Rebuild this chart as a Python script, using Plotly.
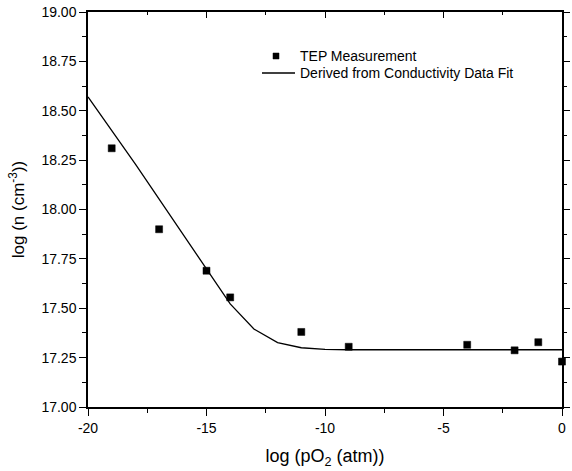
import plotly.graph_objects as go

# TEP measurement points
tep_x = [-19, -17, -15, -14, -11, -9, -4, -2, -1, 0]
tep_y = [18.31, 17.90, 17.69, 17.555, 17.38, 17.305, 17.315, 17.287, 17.328, 17.23]

# Derived from conductivity data fit
fit_x = [-20, -18, -14, -13, -12, -11, -10, -9, 0]
fit_y = [18.57, 18.23, 17.522, 17.395, 17.326, 17.300, 17.292, 17.290, 17.290]

x_ticks = [-20, -15, -10, -5, 0]
y_ticks = [17.00, 17.25, 17.50, 17.75, 18.00, 18.25, 18.50, 18.75, 19.00]

series_names = ["TEP Measurement", "Derived from Conductivity Data Fit"]

FONT = "Arial, Liberation Sans, Helvetica, sans-serif"

fig = go.Figure()
fig.add_trace(go.Scatter(
    x=tep_x, y=tep_y, mode="markers", name=series_names[0],
    marker=dict(symbol="square", size=7, color="black",
                line=dict(color="black", width=0.5)),
    cliponaxis=False, showlegend=False,
))
fig.add_trace(go.Scatter(
    x=fit_x, y=fit_y, mode="lines", name=series_names[1],
    line=dict(color="black", width=1.3), showlegend=False,
))
# transparent helper trace so the top/right frame axes are drawn
fig.add_trace(go.Scatter(
    x=tep_x, y=tep_y, mode="markers", xaxis="x2", yaxis="y2",
    marker=dict(opacity=0), hoverinfo="skip", showlegend=False,
))

axis_common = dict(showline=True, linecolor="black", linewidth=1.5,
                   showgrid=False, zeroline=False, tickcolor="black",
                   tickwidth=1.3, automargin=False)

# legend drawn manually (paper coordinates of the plot area)
L, R, T, B = 88, 562, 12, 407
def px(x):
    return (x - L) / (R - L)
def py(y):
    return 1 - (y - T) / (B - T)

shapes = [
    dict(type="rect", xref="paper", yref="paper",
         x0=px(273), x1=px(279), y0=py(59), y1=py(53),
         fillcolor="black", line=dict(color="black", width=0.5)),
    dict(type="line", xref="paper", yref="paper",
         x0=px(262), x1=px(295), y0=py(73), y1=py(73),
         line=dict(color="black", width=1.3)),
]
annotations = [
    dict(text=series_names[0], xref="paper", yref="paper", x=px(298), y=py(56),
         xanchor="left", yanchor="middle", showarrow=False, font=dict(size=14)),
    dict(text=series_names[1], xref="paper", yref="paper", x=px(298), y=py(73),
         xanchor="left", yanchor="middle", showarrow=False, font=dict(size=14)),
]

fig.update_layout(
    width=572, height=471,
    margin=dict(l=L, r=572 - R, t=T, b=471 - B),
    paper_bgcolor="white", plot_bgcolor="white",
    font=dict(family=FONT, color="black", size=14),
    showlegend=False,
    shapes=shapes,
    annotations=annotations,
    xaxis=dict(range=[-20, 0], tickvals=x_ticks, ticktext=[str(v) for v in x_ticks],
               ticks="outside", ticklen=7,
               minor=dict(dtick=2.5, tick0=0, ticks="outside", ticklen=4, tickcolor="black"),
               tickfont=dict(size=14),
               title=dict(text="log (pO<sub>2</sub> (atm))", font=dict(size=18), standoff=15),
               **axis_common),
    yaxis=dict(range=[17, 19], tickvals=y_ticks, ticktext=[f"{v:.2f}" for v in y_ticks],
               ticks="outside", ticklen=7,
               minor=dict(dtick=0.125, tick0=17, ticks="outside", ticklen=4, tickcolor="black"),
               tickfont=dict(size=14),
               title=dict(text="log (n (cm<sup>-3</sup>))", font=dict(size=17), standoff=12),
               **axis_common),
    xaxis2=dict(range=[-20, 0], overlaying="x", side="top", anchor="y2",
                tickvals=x_ticks, showticklabels=False, ticks="inside", ticklen=6,
                minor=dict(dtick=2.5, tick0=0, ticks="inside", ticklen=3, tickcolor="black"),
                **axis_common),
    yaxis2=dict(range=[17, 19], overlaying="y", side="right", anchor="x2",
                tickvals=y_ticks, showticklabels=False, ticks="outside", ticklen=6,
                minor=dict(dtick=0.125, tick0=17, ticks="outside", ticklen=3, tickcolor="black"),
                **axis_common),
)

fig.write_html("out.html")
